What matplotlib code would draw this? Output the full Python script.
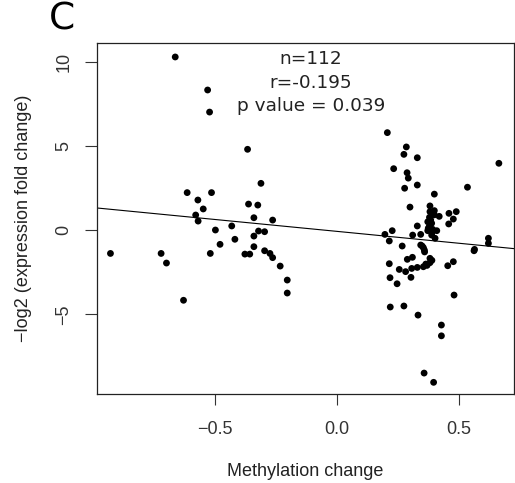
import numpy as np
import matplotlib
matplotlib.use("Agg")
import matplotlib.pyplot as plt

# points left of zero (methylation loss)
meth_neg = [-0.664, -0.531, -0.523, -0.367, -0.312, -0.615, -0.515, -0.571, -0.549, -0.58,
            -0.57, -0.363, -0.325, -0.341, -0.264, -0.499, -0.432, -0.322, -0.297, -0.341,
            -0.419, -0.48, -0.341, -0.52, -0.378, -0.358, -0.297, -0.275, -0.264, -0.233,
            -0.204, -0.204, -0.63, -0.93, -0.722, -0.70]
expr_neg = [10.27, 8.31, 7.0, 4.79, 2.77, 2.22, 2.22, 1.78, 1.25, 0.89,
            0.53, 1.54, 1.48, 0.73, 0.59, 0.0, 0.24, -0.06, -0.1, -0.36,
            -0.55, -0.85, -0.99, -1.39, -1.43, -1.43, -1.23, -1.39, -1.64, -2.14,
            -2.97, -3.74, -4.17, -1.39, -1.39, -1.96]

# points right of zero (methylation gain)
meth_pos = [0.207, 0.285, 0.275, 0.330, 0.233, 0.288, 0.293, 0.278, 0.330, 0.40,
            0.536, 0.665, 0.30, 0.382, 0.382, 0.40, 0.42, 0.46, 0.49, 0.478,
            0.459, 0.33, 0.373, 0.389, 0.379, 0.373, 0.393, 0.41, 0.389, 0.403,
            0.344, 0.311, 0.227, 0.197, 0.215, 0.268, 0.344, 0.355, 0.359, 0.382,
            0.382, 0.365, 0.478, 0.455, 0.215, 0.256, 0.282, 0.307, 0.330, 0.355,
            0.289, 0.31, 0.304, 0.218, 0.247, 0.481, 0.622, 0.622, 0.563, 0.219,
            0.275, 0.333, 0.429, 0.429, 0.358, 0.397,
            0.385, 0.375, 0.39, 0.38, 0.35, 0.36, 0.39, 0.565, 0.40, 0.37]
expr_pos = [5.78, 4.93, 4.49, 4.29, 3.64, 3.40, 3.08, 2.48, 2.67, 2.13,
            2.54, 3.96, 1.36, 1.43, 1.09, 1.15, 0.81, 0.99, 1.09, 0.65,
            0.36, 0.24, 0.49, 0.40, 0.2, -0.04, 0.04, -0.04, -0.3, -0.49,
            -0.26, -0.3, -0.04, -0.26, -0.65, -0.95, -0.89, -1.05, -1.19, -1.68,
            -1.94, -2.02, -1.88, -2.12, -2.0, -2.34, -2.47, -2.28, -2.22, -2.18,
            -1.74, -1.62, -2.81, -2.83, -3.19, -3.86, -0.49, -0.79, -1.23, -4.57,
            -4.51, -5.05, -5.64, -6.28, -8.49, -9.04,
            0.6, 0.1, -0.15, 0.75, -0.95, -1.3, -1.8, -1.15, 0.9, -2.1]

stats_lines = ["n=112", "r=-0.195", "p value = 0.039"]

x = np.array(meth_neg + meth_pos)
y = np.array(expr_neg + expr_pos)
slope, intercept = np.polyfit(x, y, 1)

fig = plt.figure(figsize=(5.15, 4.83), dpi=100)
ax = fig.add_axes([0.188, 0.184, 0.81, 0.727])

ax.scatter(x, y, s=24, c="black", edgecolors="none", zorder=3)
xl = np.array([-0.986, 0.727])
ax.plot(xl, intercept + slope * xl, color="black", lw=0.8, zorder=2)

ax.set_xlim(-0.986, 0.727)
ax.set_ylim(-9.74, 11.1)
ax.set_xticks([-0.5, 0.0, 0.5])
ax.set_xticklabels(["\u22120.5", "0.0", "0.5"])
ax.set_yticks([-5, 0, 5, 10])
ax.set_yticklabels(["\u22125", "0", "5", "10"], rotation=90, va="center")

tick_font = {"family": "Liberation Sans", "size": 13}
for lab in ax.get_xticklabels() + ax.get_yticklabels():
    lab.set_fontfamily("Liberation Sans")
    lab.set_fontsize(13)
    lab.set_color("#222222")
ax.tick_params(axis="x", length=8, width=0.8, pad=11, colors="#333333")
ax.tick_params(axis="y", length=8.5, width=0.8, pad=9, colors="#333333")
for sp in ax.spines.values():
    sp.set_linewidth(0.9)
    sp.set_color("#222222")

ax.set_xlabel("Methylation change", fontdict=tick_font, color="#222222")
ax.set_ylabel("\u2212log2 (expression fold change)", fontdict=tick_font, color="#222222")
ax.xaxis.set_label_coords(0.5, -0.195)
ax.yaxis.set_label_coords(-0.156, 0.5)

for i, line in enumerate(stats_lines):
    ax.text(-0.107, 10.12 - i * 1.37, line, ha="center", va="center",
            fontsize=13.3, family="DejaVu Sans", color="#222222")

fig.text(0.12, 0.96, "C", ha="center", va="center", fontsize=27, family="DejaVu Sans")

fig.savefig("out.png", dpi=100)
